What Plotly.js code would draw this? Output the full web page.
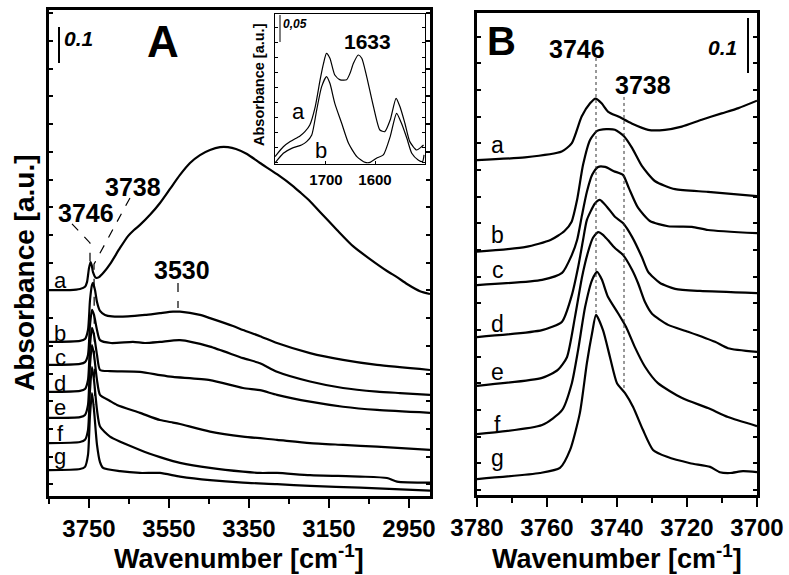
<!DOCTYPE html>
<html>
<head>
<meta charset="utf-8">
<script src="https://cdn.plot.ly/plotly-3.0.1.min.js"></script>
<style>html,body{margin:0;padding:0;background:#fff}#chart{width:789px;height:575px}</style>
</head>
<body>
<div id="chart"></div>
<script>
// ---------- Panel A : 3850-2900 cm-1 ----------
const A_a_wn = [3850, 3797.5, 3772.5, 3760, 3755, 3750, 3746, 3743, 3740, 3732.5, 3725, 3712.5, 3697.5, 3672.5, 3652.5, 3637.5, 3622.5, 3597.5, 3572.5, 3547.5, 3522.5, 3497.5, 3472.5, 3447.5, 3422.5, 3402.5, 3382.5, 3355, 3322.5, 3280, 3240, 3222.5, 3197.5, 3172.5, 3130, 3090, 3047.5, 3005, 2980, 2955, 2922.5, 2897.5];
const A_a_abs = [0.572, 0.572, 0.575, 0.581, 0.594, 0.633, 0.650, 0.640, 0.622, 0.606, 0.608, 0.622, 0.644, 0.689, 0.722, 0.739, 0.753, 0.781, 0.814, 0.853, 0.892, 0.925, 0.947, 0.961, 0.969, 0.969, 0.964, 0.950, 0.925, 0.894, 0.861, 0.844, 0.819, 0.789, 0.739, 0.694, 0.658, 0.625, 0.608, 0.589, 0.569, 0.561];

const A_b_wn = [3850, 3772.5, 3760, 3752.5, 3747.5, 3742.5, 3740, 3735, 3730, 3722.5, 3710, 3692.5, 3652.5, 3610, 3572.5, 3540, 3522.5, 3472.5, 3447.5, 3390, 3365, 3322.5, 3280, 3197.5, 3115, 3030, 2897.5];
const A_b_abs = [0.428, 0.431, 0.436, 0.461, 0.544, 0.586, 0.592, 0.572, 0.539, 0.514, 0.503, 0.499, 0.499, 0.503, 0.508, 0.512, 0.512, 0.503, 0.494, 0.472, 0.461, 0.444, 0.425, 0.397, 0.378, 0.364, 0.350];

const A_c_wn = [3850, 3772.5, 3760, 3752.5, 3747.5, 3742.5, 3737.5, 3730, 3722.5, 3695, 3640, 3610, 3572.5, 3522.5, 3447.5, 3365, 3322.5, 3280, 3197.5, 3115, 3030, 2972.5, 2897.5];
const A_c_abs = [0.364, 0.367, 0.372, 0.392, 0.475, 0.517, 0.503, 0.461, 0.433, 0.425, 0.428, 0.425, 0.428, 0.433, 0.415, 0.383, 0.369, 0.345, 0.318, 0.300, 0.290, 0.286, 0.281];

const A_d_wn = [3850, 3772.5, 3760, 3752.5, 3747.5, 3742.5, 3737.5, 3730, 3722.5, 3697.5, 3622.5, 3572.5, 3540, 3447.5, 3365, 3322.5, 3280, 3197.5, 3115, 3030, 2897.5];
const A_d_abs = [0.289, 0.292, 0.297, 0.322, 0.419, 0.467, 0.447, 0.392, 0.350, 0.347, 0.345, 0.336, 0.331, 0.322, 0.300, 0.294, 0.281, 0.262, 0.248, 0.239, 0.231];

const A_e_wn = [3850, 3772.5, 3760, 3752.5, 3747.5, 3742.5, 3737.5, 3730, 3722.5, 3697.5, 3680, 3622.5, 3572.5, 3540, 3522.5, 3447.5, 3365, 3280, 3197.5, 3115, 3030, 2897.5];
const A_e_abs = [0.217, 0.219, 0.225, 0.253, 0.364, 0.419, 0.392, 0.322, 0.281, 0.264, 0.253, 0.231, 0.211, 0.204, 0.200, 0.179, 0.165, 0.156, 0.147, 0.142, 0.137, 0.128];

const A_f_wn = [3850, 3772.5, 3760, 3752.5, 3747.5, 3742.5, 3737.5, 3730, 3722.5, 3697.5, 3622.5, 3572.5, 3540, 3522.5, 3447.5, 3365, 3322.5, 3280, 3197.5, 3072.5, 3005, 2980, 2897.5];
const A_f_abs = [0.147, 0.150, 0.156, 0.183, 0.294, 0.358, 0.322, 0.239, 0.193, 0.165, 0.128, 0.108, 0.097, 0.092, 0.078, 0.0675, 0.064, 0.064, 0.058, 0.054, 0.050, 0.040, 0.037];

const A_g_wn = [3850, 3772.5, 3760, 3752.5, 3747.5, 3742.5, 3737.5, 3730, 3722.5, 3715, 3672.5, 3622.5, 3572.5, 3522.5, 3447.5, 3365, 3280, 3197.5, 3072.5, 2897.5];
const A_g_abs = [0.072, 0.075, 0.081, 0.114, 0.225, 0.286, 0.239, 0.142, 0.094, 0.078, 0.069, 0.064, 0.064, 0.054, 0.044, 0.037, 0.033, 0.028, 0.023, 0.015];

// ---------- Panel B : 3780-3700 cm-1 ----------
const B_a_wn = [3780, 3766.3, 3755.8, 3752.9, 3750.1, 3747.7, 3746.1, 3744.4, 3742.5, 3739.6, 3735.8, 3731.1, 3726.3, 3721.5, 3715.8, 3710.1, 3705.3, 3700];
const B_a_abs = [0.632, 0.637, 0.648, 0.664, 0.714, 0.739, 0.748, 0.739, 0.723, 0.714, 0.701, 0.689, 0.689, 0.695, 0.708, 0.720, 0.730, 0.744];

const B_b_wn = [3780, 3766, 3759, 3755, 3753, 3751.4, 3749.7, 3747.7, 3745.7, 3744, 3740.6, 3738, 3735.7, 3732.9, 3729.1, 3723.4, 3714, 3700];
const B_b_abs = [0.459, 0.468, 0.481, 0.498, 0.515, 0.557, 0.623, 0.670, 0.687, 0.690, 0.689, 0.677, 0.655, 0.621, 0.592, 0.577, 0.572, 0.564];

const B_c_wn = [3780, 3761.4, 3755.7, 3752.9, 3751.4, 3750, 3748.6, 3747.1, 3745.4, 3743.4, 3740.9, 3738.3, 3736.6, 3734, 3730.6, 3725.4, 3718.6, 3714, 3700];
const B_c_abs = [0.396, 0.406, 0.419, 0.453, 0.481, 0.528, 0.572, 0.604, 0.619, 0.619, 0.611, 0.604, 0.579, 0.542, 0.517, 0.507, 0.506, 0.500, 0.494];

const B_d_wn = [3780, 3761.4, 3755.7, 3752.9, 3751.1, 3749.7, 3748.6, 3746.3, 3744.9, 3742.9, 3740.6, 3738.3, 3735.7, 3732.9, 3731.1, 3727.7, 3723.4, 3716.3, 3700];
const B_d_abs = [0.298, 0.311, 0.327, 0.377, 0.430, 0.481, 0.519, 0.550, 0.557, 0.544, 0.525, 0.513, 0.487, 0.449, 0.421, 0.400, 0.389, 0.385, 0.381];

const B_e_wn = [3780, 3761.4, 3756.9, 3754.3, 3752, 3750, 3748.3, 3746.9, 3745.4, 3744, 3742.6, 3740.6, 3738.3, 3735.7, 3734, 3732, 3730, 3725.4, 3719.7, 3712, 3708.3, 3700];
const B_e_abs = [0.206, 0.221, 0.236, 0.260, 0.336, 0.411, 0.458, 0.485, 0.496, 0.491, 0.481, 0.466, 0.453, 0.425, 0.400, 0.364, 0.342, 0.321, 0.308, 0.289, 0.277, 0.270];

const B_f_wn = [3780, 3761.4, 3755.7, 3752.9, 3751.1, 3749.1, 3747.1, 3745.7, 3744.3, 3742.6, 3739.7, 3737.4, 3734.9, 3732, 3728.3, 3721.4, 3714, 3708.3, 3700];
const B_f_abs = [0.115, 0.132, 0.160, 0.211, 0.274, 0.355, 0.406, 0.421, 0.406, 0.374, 0.343, 0.317, 0.279, 0.242, 0.211, 0.183, 0.164, 0.147, 0.130];

const B_g_wn = [3780, 3762, 3756.3, 3753.4, 3750.6, 3748.6, 3747.1, 3746, 3744, 3742, 3740, 3737.7, 3735.4, 3732.6, 3729.7, 3725.7, 3719.1, 3713.4, 3710.6, 3707.7, 3704, 3700];
const B_g_abs = [0.030, 0.0415, 0.051, 0.085, 0.155, 0.249, 0.306, 0.340, 0.311, 0.260, 0.211, 0.192, 0.166, 0.123, 0.085, 0.072, 0.060, 0.053, 0.043, 0.0415, 0.045, 0.043];

// ---------- Inset : 1800-1500 cm-1 ----------
const In_a_wn = [1804, 1787, 1773, 1753, 1743, 1733, 1722, 1712, 1705, 1699, 1692, 1682, 1671, 1658, 1651, 1644, 1634, 1627, 1617, 1603, 1590, 1580, 1569, 1557, 1549, 1539, 1529, 1515, 1505, 1501];
const In_a_abs = [0.0117, 0.030, 0.0395, 0.050, 0.058, 0.0704, 0.104, 0.154, 0.1846, 0.203, 0.194, 0.163, 0.154, 0.154, 0.166, 0.1846, 0.200, 0.194, 0.160, 0.104, 0.061, 0.058, 0.0796, 0.1198, 0.104, 0.0735, 0.0395, 0.024, 0.030, 0.0333];
const In_b_wn = [1804, 1787, 1770, 1750, 1739.5, 1729, 1719, 1709, 1699, 1692, 1682, 1668, 1654, 1637, 1620, 1610, 1597, 1583, 1569, 1556, 1546, 1535, 1525, 1512, 1503, 1500];
const In_b_abs = [0.0, 0.018, 0.027, 0.0333, 0.0395, 0.0519, 0.098, 0.141, 0.160, 0.1475, 0.1105, 0.0735, 0.0364, 0.0117, 0.001, 0.001, 0.0087, 0.0148, 0.0488, 0.092, 0.0735, 0.0457, 0.018, 0.0056, 0.0025, 0.0148];

const curveLabels = ['a', 'b', 'c', 'd', 'e', 'f', 'g'];
const A_ticks = [3750, 3550, 3350, 3150, 2950];
const B_ticks = [3780, 3760, 3740, 3720, 3700];
const In_ticks = [1700, 1600];

// ---------- build ----------
const W = 789, H = 575;
const px = x => x / W;
const py = y => 1 - y / H;
const FONT = 'Liberation Sans, Arial, Helvetica, sans-serif';

const seriesA = [[A_a_wn, A_a_abs], [A_b_wn, A_b_abs], [A_c_wn, A_c_abs], [A_d_wn, A_d_abs], [A_e_wn, A_e_abs], [A_f_wn, A_f_abs], [A_g_wn, A_g_abs]];
const seriesB = [[B_a_wn, B_a_abs], [B_b_wn, B_b_abs], [B_c_wn, B_c_abs], [B_d_wn, B_d_abs], [B_e_wn, B_e_abs], [B_f_wn, B_f_abs], [B_g_wn, B_g_abs]];

const traces = [];
seriesA.forEach((s, i) => traces.push({x: s[0], y: s[1], xaxis: 'x', yaxis: 'y', mode: 'lines', name: 'A ' + curveLabels[i],
  line: {color: '#000', width: 2.2, shape: 'spline', smoothing: 0.6}, hoverinfo: 'x+y'}));
seriesB.forEach((s, i) => traces.push({x: s[0], y: s[1], xaxis: 'x2', yaxis: 'y2', mode: 'lines', name: 'B ' + curveLabels[i],
  line: {color: '#000', width: 2.2, shape: 'spline', smoothing: 0.6}, hoverinfo: 'x+y'}));
[[In_a_wn, In_a_abs, 'a'], [In_b_wn, In_b_abs, 'b']].forEach(s => traces.push({x: s[0], y: s[1], xaxis: 'x3', yaxis: 'y3', mode: 'lines', name: 'inset ' + s[2],
  line: {color: '#000', width: 1.2, shape: 'spline', smoothing: 0.6}, hoverinfo: 'x+y'}));

const xTickFont = {family: FONT, size: 24, color: '#000', weight: 700};
const baseX = {showgrid: false, zeroline: false, showline: true, linecolor: '#000', linewidth: 3, mirror: true,
  ticks: 'outside', ticklen: 9, tickwidth: 2.5, tickcolor: '#000', tickfont: xTickFont, ticklabelstandoff: 0, automargin: false};
const baseY = {showgrid: false, zeroline: false, showline: true, linecolor: '#000', linewidth: 3, mirror: 'ticks',
  ticks: 'inside', ticklen: 4, tickwidth: 2, tickcolor: '#000', showticklabels: false, automargin: false};

const ann = (text, x, y, size, opts) => Object.assign({text: text, xref: 'paper', yref: 'paper', x: px(x), y: py(y),
  xanchor: 'center', yanchor: 'middle', showarrow: false, borderpad: 0,
  font: {family: FONT, size: size, color: '#000'}}, opts || {});
const bold = (text, x, y, size, opts) => { const a = ann(text, x, y, size, opts); a.font.weight = 700; return a; };
const boldItalic = (text, x, y, size, opts) => { const a = bold(text, x, y, size, opts); a.font.style = 'italic'; return a; };

const annotations = [
  bold('A', 163, 41, 44),
  bold('B', 501, 41, 40),
  boldItalic('0.1', 78, 38, 21),
  boldItalic('0.1', 722, 47, 21),
  bold('3746', 86, 213, 25),
  bold('3738', 133, 187, 25),
  bold('3530', 182, 270, 25),
  bold('3746', 577, 49, 25),
  bold('3738', 643, 85, 25),
  bold('1633', 367, 42, 21),
  boldItalic('0,05', 295, 24, 12),
  ann('a', 298, 112, 22),
  ann('b', 321, 150, 22),
  bold('Absorbance [a.u.]', 259, 85, 14.5, {textangle: -90}),
  bold('Absorbance [a.u.]', 24, 273, 28, {textangle: -90}),
  bold('Wavenumber [cm<sup>-1</sup>]', 239, 557, 27),
  bold('Wavenumber [cm<sup>-1</sup>]', 617, 557, 27)
];
const labA_y = [280, 333, 357, 383, 408, 433, 456];
const labB_y = [145, 235, 270, 324, 372, 425, 458];
curveLabels.forEach((l, i) => {
  annotations.push(ann(l, 60, labA_y[i], 22));
  annotations.push(ann(l, 498, labB_y[i], 23));
});

const seg = (x0, y0, x1, y1, w) => ({type: 'line', xref: 'paper', yref: 'paper', x0: px(x0), y0: py(y0), x1: px(x1), y1: py(y1), line: {color: '#000', width: w}});
const shapes = [
  seg(59, 27, 59, 63, 2),
  seg(748, 18, 748, 73, 2),
  seg(280, 15, 280, 42, 1),
  // dashed guides in panel A (data coordinates)
  {type: 'path', xref: 'x', yref: 'y', path: 'M 3792.5,0.756 L 3747.5,0.703 L 3747.5,0.652', line: {color: '#000', width: 1.2, dash: 'dash'}},
  {type: 'path', xref: 'x', yref: 'y', path: 'M 3647.5,0.828 L 3737.5,0.644 L 3736,0.253', line: {color: '#000', width: 1.2, dash: 'dash'}},
  {type: 'line', xref: 'x', yref: 'y', x0: 3527.5, x1: 3527.5, y0: 0.592, y1: 0.522, line: {color: '#000', width: 1.2, dash: 'dash'}},
  // dotted guides in panel B
  {type: 'line', xref: 'x2', yref: 'y2', x0: 3746, x1: 3746, y0: 0.8245, y1: 0.340, line: {color: '#333', width: 1, dash: 'dot'}},
  {type: 'line', xref: 'x2', yref: 'y2', x0: 3738, x1: 3738, y0: 0.751, y1: 0.198, line: {color: '#333', width: 1, dash: 'dot'}}
];

const layout = {
  width: W, height: H, margin: {l: 0, r: 0, t: 0, b: 0, pad: 0},
  paper_bgcolor: '#fff', plot_bgcolor: 'rgba(0,0,0,0)', showlegend: false,
  font: {family: FONT, color: '#000'},
  xaxis: Object.assign({}, baseX, {domain: [px(49), px(430)], range: [3850, 2897.5], anchor: 'y',
    tickvals: A_ticks, minor: {dtick: 100, tick0: 3750, ticks: 'outside', ticklen: 5, tickwidth: 2.5, tickcolor: '#000'}}),
  yaxis: Object.assign({}, baseY, {domain: [py(496), py(10)], range: [0, 1.35], anchor: 'x', tick0: 0.032, dtick: 0.077}),
  xaxis2: Object.assign({}, baseX, {domain: [px(477), px(757)], range: [3780, 3700], anchor: 'y2',
    tickvals: B_ticks, minor: {dtick: 10, tick0: 3700, ticks: 'outside', ticklen: 5, tickwidth: 2.5, tickcolor: '#000'}}),
  yaxis2: Object.assign({}, baseY, {domain: [py(495), py(13)], range: [0, 0.9094], anchor: 'x2', tick0: 0.0094, dtick: 0.0503}),
  xaxis3: {domain: [px(275), px(425)], range: [1804, 1498], anchor: 'y3', showgrid: false, zeroline: false, showline: true,
    linecolor: '#000', linewidth: 1.2, mirror: true, ticks: 'inside', ticklen: 3, tickwidth: 1, tickcolor: '#000',
    tickvals: In_ticks, tickfont: {family: FONT, size: 15, color: '#000', weight: 700}, ticklabelstandoff: 2, automargin: false},
  yaxis3: {domain: [py(164), py(14)], range: [-0.002, 0.276], anchor: 'x3', showgrid: false, zeroline: false, showline: true,
    linecolor: '#000', linewidth: 1.2, mirror: 'ticks', ticks: 'inside', ticklen: 3, tickwidth: 1, tickcolor: '#000',
    dtick: 0.0278, tick0: 0, showticklabels: false, automargin: false},
  annotations: annotations,
  shapes: shapes
};

Plotly.newPlot('chart', traces, layout, {displayModeBar: false, staticPlot: true});
</script>
</body>
</html>
